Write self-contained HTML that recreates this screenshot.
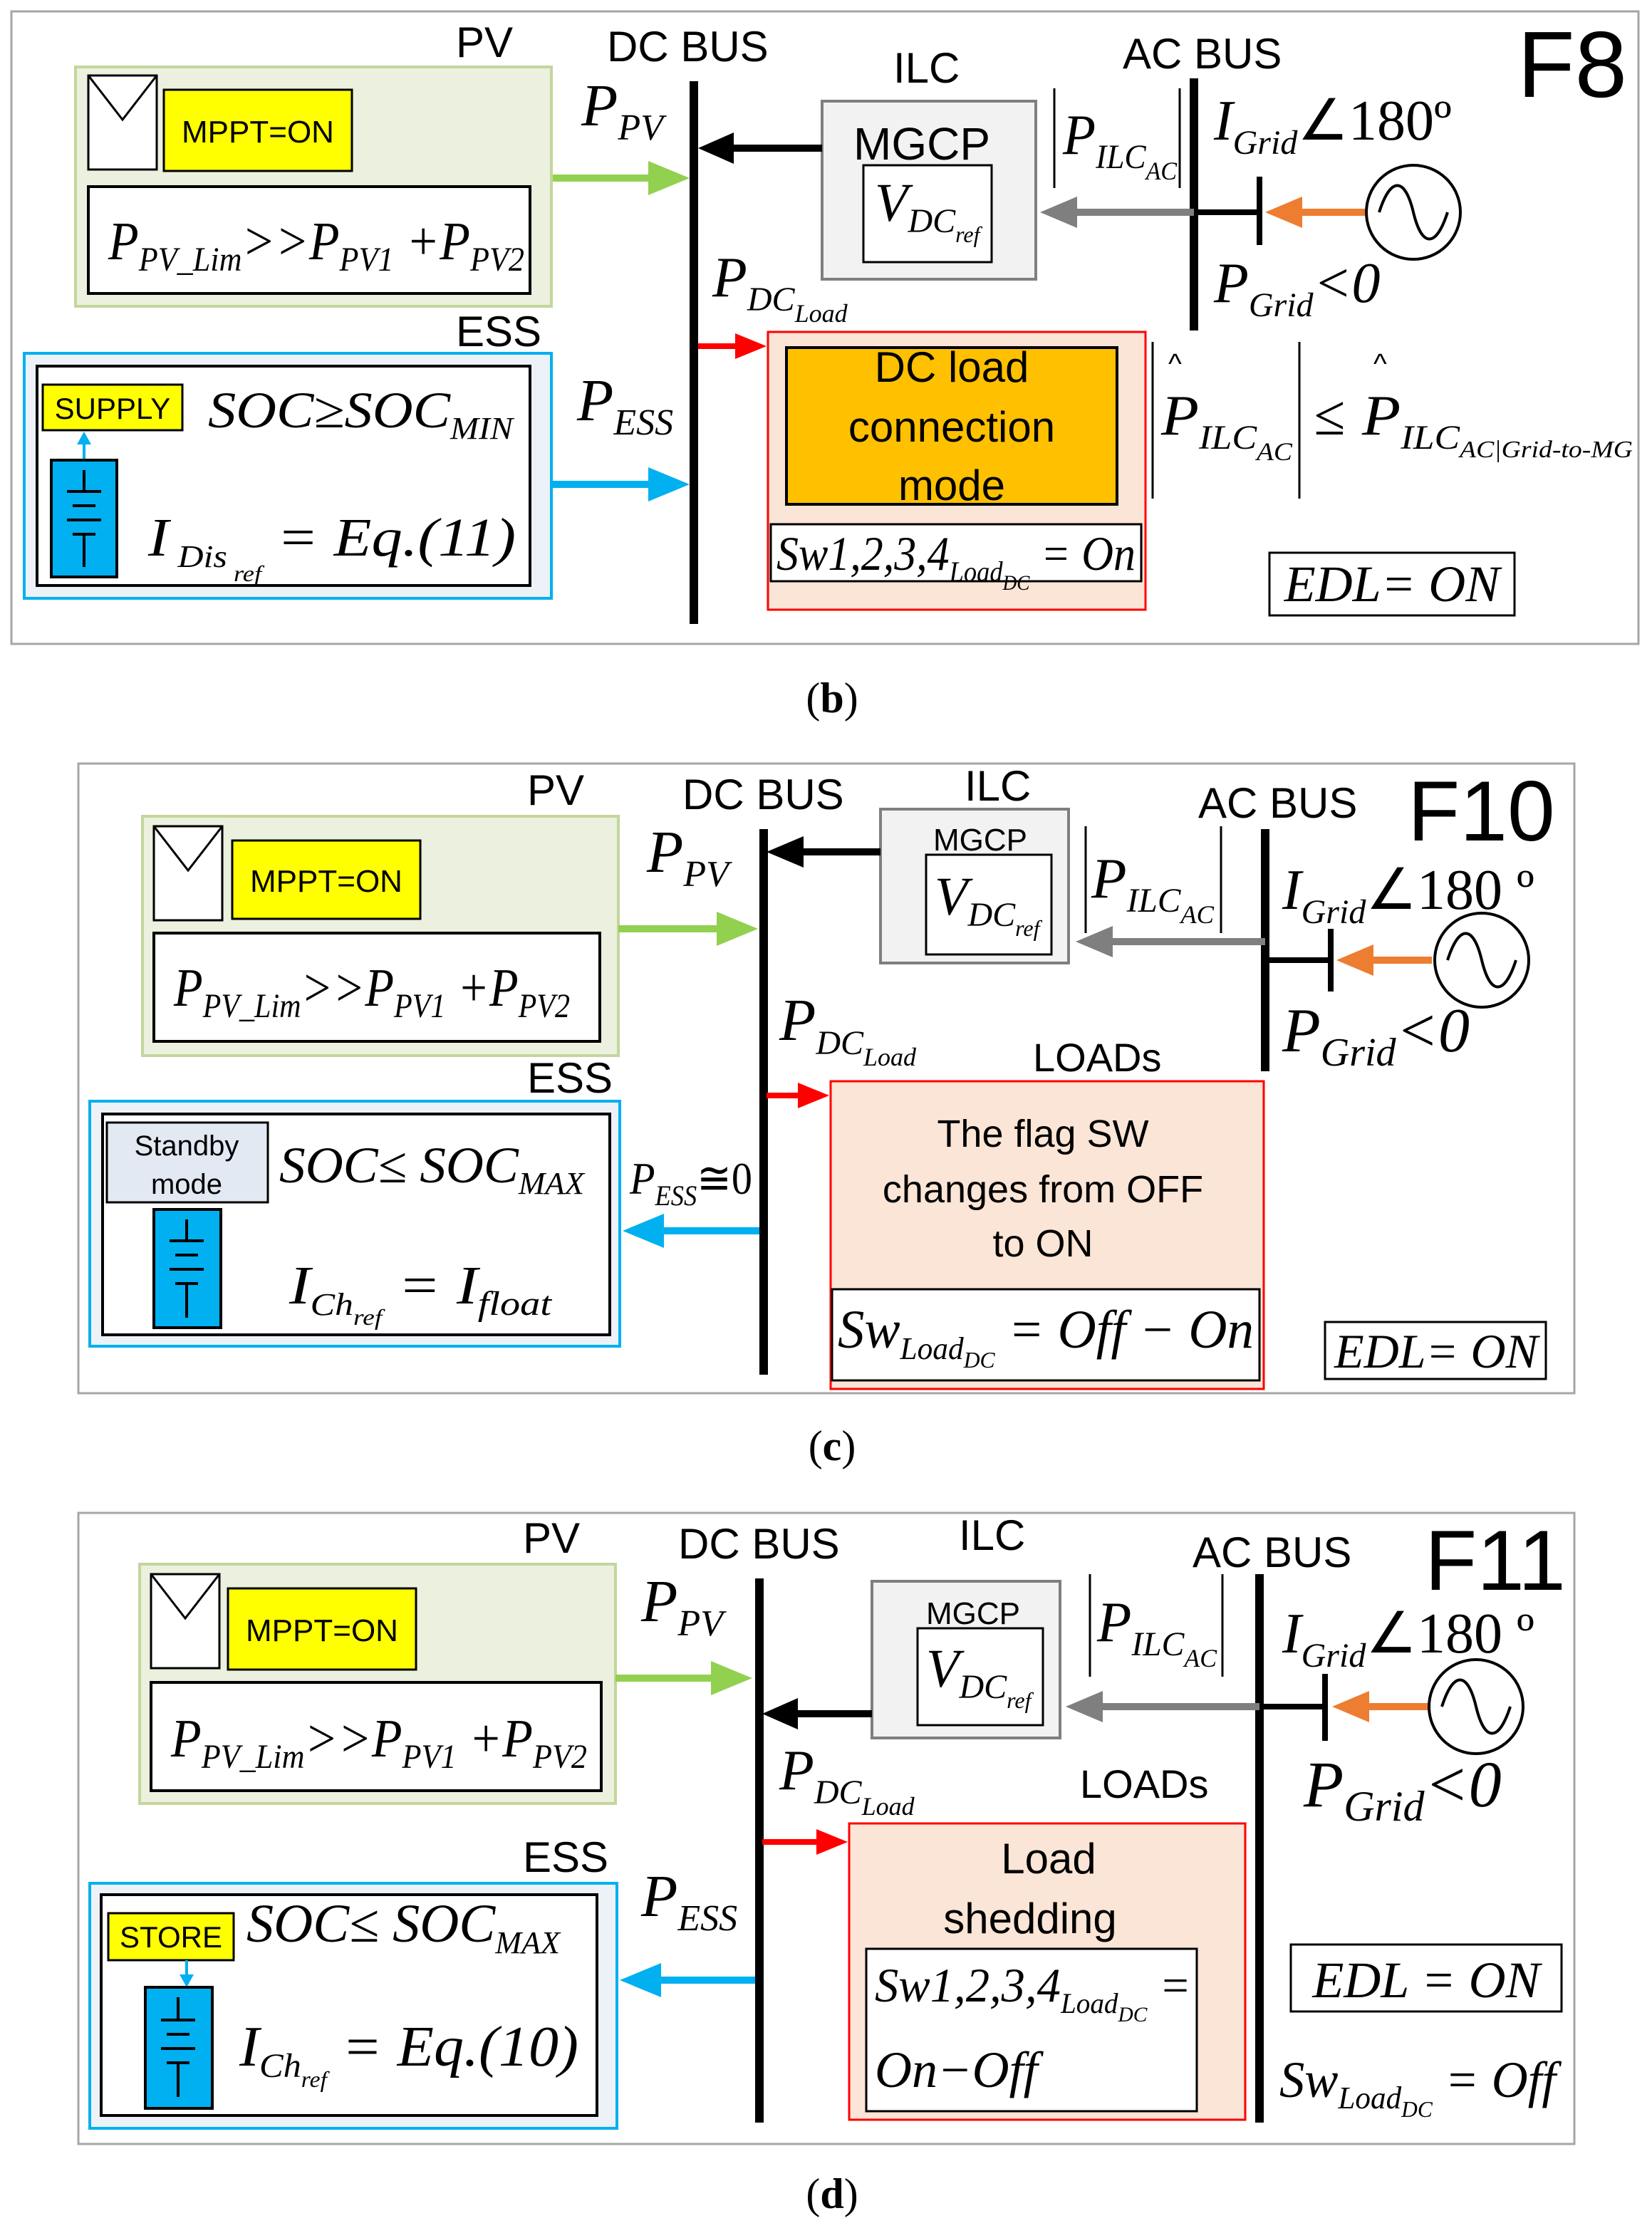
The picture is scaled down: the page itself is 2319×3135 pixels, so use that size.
<!DOCTYPE html>
<html><head><meta charset="utf-8"><style>
html,body{margin:0;padding:0;background:#fff;}
svg{display:block;}
.s{font-family:"Liberation Sans",sans-serif;}
.m{font-family:"Liberation Serif",serif;font-style:italic;}
</style></head><body>
<svg width="2319" height="3135" viewBox="0 0 1159.5 1567.5" xmlns="http://www.w3.org/2000/svg">
<rect width="1159.5" height="1567.5" fill="#fff"/>

<!-- ============ PANEL B ============ -->
<rect x="8" y="8" width="1142" height="444" fill="#fff" stroke="#a6a6a6" stroke-width="1.5"/>
<text class="s" x="320" y="40" font-size="30">PV</text>
<text class="s" x="426" y="43" font-size="30">DC BUS</text>
<text class="s" x="627" y="58" font-size="30">ILC</text>
<text class="s" x="788" y="48" font-size="30">AC BUS</text>
<text class="s" x="1065" y="68" font-size="66">F8</text>
<rect x="53" y="47" width="334" height="168" fill="#ebf1de" stroke="#c3d69b" stroke-width="2"/>
<rect x="62" y="53" width="48" height="66" fill="#fff" stroke="#000" stroke-width="1.5"/>
<polyline points="62,53 86,84 110,53" fill="none" stroke="#000" stroke-width="1.5"/>
<rect x="115" y="63" width="132" height="57" fill="#ffff00" stroke="#000" stroke-width="1.5"/>
<text class="s" x="181" y="100" font-size="22" text-anchor="middle">MPPT=ON</text>
<rect x="62" y="131" width="310" height="75" fill="#fff" stroke="#000" stroke-width="2"/>
<text class="m" x="76" y="182" font-size="38" textLength="292" lengthAdjust="spacingAndGlyphs">P<tspan font-size="24" dy="8">PV_Lim</tspan><tspan dy="-8">&gt;&gt;P</tspan><tspan font-size="24" dy="8">PV1</tspan><tspan dy="-8"> +P</tspan><tspan font-size="24" dy="8">PV2</tspan></text>
<text class="m" x="408" y="88" font-size="42">P<tspan font-size="26" dy="10">PV</tspan></text>
<line x1="487" y1="57" x2="487" y2="438" stroke="#000" stroke-width="6"/>
<line x1="388" y1="125" x2="462" y2="125" stroke="#92d050" stroke-width="5"/>
<polygon points="484,125 455,113 455,137" fill="#92d050"/>
<text class="s" x="320" y="243" font-size="30">ESS</text>
<rect x="17" y="248" width="370" height="172" fill="#edf2f8" stroke="#00b0f0" stroke-width="2"/>
<rect x="26" y="257" width="346" height="154" fill="#fff" stroke="#000" stroke-width="2"/>
<rect x="30" y="270" width="98" height="32" fill="#ffff00" stroke="#000" stroke-width="1.5"/>
<text class="s" x="79" y="294" font-size="21" text-anchor="middle">SUPPLY</text>
<line x1="59" y1="323" x2="59" y2="310" stroke="#00b0f0" stroke-width="2"/>
<polygon points="59,303 54,312 64,312" fill="#00b0f0"/>
<rect x="36" y="323" width="46" height="82" fill="#00b0f0" stroke="#000" stroke-width="2"/>
<g stroke="#000" stroke-width="2"><line x1="59" y1="330" x2="59" y2="345"/><line x1="59" y1="375" x2="59" y2="398"/><line x1="47" y1="345" x2="71" y2="345"/><line x1="51" y1="355" x2="67" y2="355"/><line x1="47" y1="365" x2="71" y2="365"/><line x1="51" y1="375" x2="67" y2="375"/></g>
<text class="m" x="146" y="300" font-size="36" textLength="214" lengthAdjust="spacingAndGlyphs">SOC≥SOC<tspan font-size="22" dy="8">MIN</tspan></text>
<text class="m" x="104" y="390" font-size="38" textLength="258" lengthAdjust="spacingAndGlyphs">I<tspan font-size="22" dy="8"> Dis</tspan><tspan font-size="16" dy="10"> ref</tspan><tspan dy="-18">   = Eq.(11)</tspan></text>
<text class="m" x="405" y="295" font-size="42">P<tspan font-size="26" dy="10">ESS</tspan></text>
<line x1="388" y1="340" x2="462" y2="340" stroke="#00b0f0" stroke-width="5"/>
<polygon points="484,340 455,328 455,352" fill="#00b0f0"/>
<rect x="577" y="71" width="150" height="125" fill="#f2f2f2" stroke="#7f7f7f" stroke-width="2"/>
<text class="s" x="647" y="112" font-size="32" text-anchor="middle">MGCP</text>
<rect x="606" y="116" width="90" height="68" fill="#fff" stroke="#000" stroke-width="1.5"/>
<text class="m" x="614" y="155" font-size="38">V<tspan font-size="24" dy="8">DC</tspan><tspan font-size="16" dy="7">ref</tspan></text>
<line x1="577" y1="104" x2="510" y2="104" stroke="#000" stroke-width="5"/>
<polygon points="490,104 515,93 515,115" fill="#000"/>
<line x1="740" y1="62" x2="740" y2="132" stroke="#000" stroke-width="1.5"/>
<line x1="828" y1="62" x2="828" y2="132" stroke="#000" stroke-width="1.5"/>
<text class="m" x="746" y="108" font-size="40" textLength="80" lengthAdjust="spacingAndGlyphs">P<tspan font-size="24" dy="10">ILC</tspan><tspan font-size="18" dy="8">AC</tspan></text>
<line x1="838" y1="55" x2="838" y2="232" stroke="#000" stroke-width="6"/>
<line x1="838" y1="149" x2="752" y2="149" stroke="#7f7f7f" stroke-width="5"/>
<polygon points="730,149 756,138 756,160" fill="#7f7f7f"/>
<line x1="838" y1="149" x2="886" y2="149" stroke="#000" stroke-width="4"/>
<line x1="884" y1="124" x2="884" y2="172" stroke="#000" stroke-width="4"/>
<line x1="958" y1="149" x2="910" y2="149" stroke="#ed7d31" stroke-width="5"/>
<polygon points="888,149 914,138 914,160" fill="#ed7d31"/>
<circle cx="992" cy="149" r="33" fill="#fff" stroke="#000" stroke-width="2"/>
<path d="M968,149 C976,124 986,124 992,149 C998,174 1008,174 1016,149" fill="none" stroke="#000" stroke-width="2"/>
<text class="m" x="852" y="98" font-size="40">I<tspan font-size="24" dy="10">Grid</tspan><tspan dy="-10" font-style="normal">∠180º</tspan></text>
<text class="m" x="852" y="212" font-size="40">P<tspan font-size="24" dy="10">Grid</tspan><tspan dy="-10">&lt;0</tspan></text>
<text class="m" x="500" y="208" font-size="40">P<tspan font-size="24" dy="10">DC</tspan><tspan font-size="18" dy="8">Load</tspan></text>
<line x1="490" y1="243" x2="518" y2="243" stroke="#ff0000" stroke-width="4"/>
<polygon points="538,243 516,234 516,252" fill="#ff0000"/>
<rect x="539" y="233" width="265" height="195" fill="#fbe5d6" stroke="#ff0000" stroke-width="1.5"/>
<rect x="552" y="244" width="232" height="110" fill="#ffc000" stroke="#000" stroke-width="2"/>
<text class="s" x="668" y="268" font-size="30" text-anchor="middle">DC load</text>
<text class="s" x="668" y="310" font-size="30" text-anchor="middle">connection</text>
<text class="s" x="668" y="351" font-size="30" text-anchor="middle">mode</text>
<rect x="541" y="368" width="260" height="40" fill="#fff" stroke="#000" stroke-width="1.5"/>
<text class="m" x="545" y="400" font-size="34" textLength="252" lengthAdjust="spacingAndGlyphs">Sw1,2,3,4<tspan font-size="20" dy="8">Load</tspan><tspan font-size="15" dy="6">DC</tspan><tspan dy="-14"> = On</tspan></text>
<line x1="809" y1="240" x2="809" y2="350" stroke="#000" stroke-width="1.5"/>
<line x1="912" y1="240" x2="912" y2="350" stroke="#000" stroke-width="1.5"/>
<text class="s" x="820" y="262" font-size="20">^</text>
<text class="s" x="964" y="262" font-size="20">^</text>
<text class="m" x="815" y="305" font-size="40" textLength="92" lengthAdjust="spacingAndGlyphs">P<tspan font-size="24" dy="10">ILC</tspan><tspan font-size="18" dy="8">AC</tspan></text>
<text class="m" x="922" y="305" font-size="40" font-style="normal">≤</text><text class="m" x="956" y="305" font-size="40" textLength="190" lengthAdjust="spacingAndGlyphs">P<tspan font-size="24" dy="10">ILC</tspan><tspan font-size="17" dy="6">AC|Grid-to-MG</tspan></text>
<rect x="891" y="388" width="172" height="44" fill="#fff" stroke="#000" stroke-width="1.5"/>
<text class="m" x="977" y="422" font-size="36" text-anchor="middle">EDL= ON</text>
<text x="584" y="500" font-family="Liberation Serif,serif" font-size="30" text-anchor="middle">(<tspan font-weight="bold">b</tspan>)</text>

<!-- ============ PANEL C ============ -->
<rect x="55" y="536" width="1050" height="442" fill="#fff" stroke="#a6a6a6" stroke-width="1.5"/>
<text class="s" x="370" y="565" font-size="30">PV</text>
<text class="s" x="479" y="568" font-size="30">DC BUS</text>
<text class="s" x="677" y="562" font-size="30">ILC</text>
<text class="s" x="841" y="574" font-size="30">AC BUS</text>
<text class="s" x="988" y="590" font-size="60">F10</text>
<rect x="100" y="573" width="334" height="168" fill="#ebf1de" stroke="#c3d69b" stroke-width="2"/>
<rect x="108" y="580" width="48" height="66" fill="#fff" stroke="#000" stroke-width="1.5"/>
<polyline points="108,580 132,611 156,580" fill="none" stroke="#000" stroke-width="1.5"/>
<rect x="163" y="590" width="132" height="55" fill="#ffff00" stroke="#000" stroke-width="1.5"/>
<text class="s" x="229" y="626" font-size="22" text-anchor="middle">MPPT=ON</text>
<rect x="108" y="655" width="313" height="76" fill="#fff" stroke="#000" stroke-width="2"/>
<text class="m" x="122" y="706" font-size="38" textLength="278" lengthAdjust="spacingAndGlyphs">P<tspan font-size="24" dy="8">PV_Lim</tspan><tspan dy="-8">&gt;&gt;P</tspan><tspan font-size="24" dy="8">PV1</tspan><tspan dy="-8"> +P</tspan><tspan font-size="24" dy="8">PV2</tspan></text>
<text class="m" x="454" y="612" font-size="42">P<tspan font-size="26" dy="10">PV</tspan></text>
<line x1="536" y1="582" x2="536" y2="965" stroke="#000" stroke-width="6"/>
<line x1="434" y1="652" x2="510" y2="652" stroke="#92d050" stroke-width="5"/>
<polygon points="532,652 503,640 503,664" fill="#92d050"/>
<text class="s" x="370" y="767" font-size="30">ESS</text>
<rect x="63" y="773" width="372" height="172" fill="#edf2f8" stroke="#00b0f0" stroke-width="2"/>
<rect x="72" y="782" width="356" height="155" fill="#fff" stroke="#000" stroke-width="2"/>
<rect x="75" y="788" width="113" height="56" fill="#e3e9f2" stroke="#000" stroke-width="1.5"/>
<text class="s" x="131" y="811" font-size="20" text-anchor="middle">Standby</text>
<text class="s" x="131" y="838" font-size="20" text-anchor="middle">mode</text>
<rect x="108" y="849" width="47" height="83" fill="#00b0f0" stroke="#000" stroke-width="2"/>
<g stroke="#000" stroke-width="2"><line x1="131" y1="856" x2="131" y2="871"/><line x1="131" y1="901" x2="131" y2="925"/><line x1="119" y1="871" x2="143" y2="871"/><line x1="123" y1="881" x2="139" y2="881"/><line x1="119" y1="891" x2="143" y2="891"/><line x1="123" y1="901" x2="139" y2="901"/></g>
<text class="m" x="196" y="830" font-size="36" textLength="214" lengthAdjust="spacingAndGlyphs">SOC≤ SOC<tspan font-size="22" dy="8">MAX</tspan></text>
<text class="m" x="203" y="915" font-size="38" textLength="184" lengthAdjust="spacingAndGlyphs">I<tspan font-size="22" dy="8">Ch</tspan><tspan font-size="16" dy="7">ref</tspan><tspan dy="-15"> = I</tspan><tspan font-size="24" dy="8">float</tspan></text>
<text class="m" x="442" y="838" font-size="32" textLength="86" lengthAdjust="spacingAndGlyphs">P<tspan font-size="20" dy="8">ESS</tspan><tspan dy="-8" font-style="normal">≅0</tspan></text>
<line x1="533" y1="864" x2="460" y2="864" stroke="#00b0f0" stroke-width="5"/>
<polygon points="437,864 466,852 466,876" fill="#00b0f0"/>
<rect x="618" y="568" width="132" height="108" fill="#f2f2f2" stroke="#7f7f7f" stroke-width="2"/>
<text class="s" x="688" y="597" font-size="22" text-anchor="middle">MGCP</text>
<rect x="650" y="600" width="88" height="70" fill="#fff" stroke="#000" stroke-width="1.5"/>
<text class="m" x="656" y="642" font-size="38">V<tspan font-size="24" dy="8">DC</tspan><tspan font-size="16" dy="7">ref</tspan></text>
<line x1="618" y1="598" x2="560" y2="598" stroke="#000" stroke-width="5"/>
<polygon points="538,598 564,587 564,609" fill="#000"/>
<line x1="762" y1="580" x2="762" y2="655" stroke="#000" stroke-width="1.5"/>
<line x1="857" y1="580" x2="857" y2="655" stroke="#000" stroke-width="1.5"/>
<text class="m" x="766" y="630" font-size="40" textLength="86" lengthAdjust="spacingAndGlyphs">P<tspan font-size="24" dy="10">ILC</tspan><tspan font-size="18" dy="8">AC</tspan></text>
<line x1="888" y1="582" x2="888" y2="752" stroke="#000" stroke-width="6"/>
<line x1="888" y1="661" x2="778" y2="661" stroke="#7f7f7f" stroke-width="5"/>
<polygon points="755,661 781,650 781,672" fill="#7f7f7f"/>
<line x1="888" y1="674" x2="936" y2="674" stroke="#000" stroke-width="4"/>
<line x1="934" y1="652" x2="934" y2="696" stroke="#000" stroke-width="4"/>
<line x1="1005" y1="674" x2="960" y2="674" stroke="#ed7d31" stroke-width="5"/>
<polygon points="938,674 964,663 964,685" fill="#ed7d31"/>
<circle cx="1040" cy="674" r="33" fill="#fff" stroke="#000" stroke-width="2"/>
<path d="M1016,674 C1024,649 1034,649 1040,674 C1046,699 1056,699 1064,674" fill="none" stroke="#000" stroke-width="2"/>
<text class="m" x="900" y="638" font-size="40">I<tspan font-size="24" dy="10">Grid</tspan><tspan dy="-10" font-style="normal">∠180 º</tspan></text>
<text class="m" x="900" y="738" font-size="44">P<tspan font-size="28" dy="10">Grid</tspan><tspan dy="-10">&lt;0</tspan></text>
<text class="m" x="547" y="730" font-size="42">P<tspan font-size="24" dy="10">DC</tspan><tspan font-size="18" dy="8">Load</tspan></text>
<text class="s" x="725" y="752" font-size="28">LOADs</text>
<line x1="538" y1="769" x2="562" y2="769" stroke="#ff0000" stroke-width="4"/>
<polygon points="582,769 560,760 560,778" fill="#ff0000"/>
<rect x="583" y="759" width="304" height="216" fill="#fbe5d6" stroke="#ff0000" stroke-width="1.5"/>
<text class="s" x="732" y="805" font-size="27" text-anchor="middle">The flag SW</text>
<text class="s" x="732" y="844" font-size="27" text-anchor="middle">changes from OFF</text>
<text class="s" x="732" y="882" font-size="27" text-anchor="middle">to ON</text>
<rect x="584" y="905" width="300" height="64" fill="#fff" stroke="#000" stroke-width="1.5"/>
<text class="m" x="588" y="946" font-size="38" textLength="292" lengthAdjust="spacingAndGlyphs">Sw<tspan font-size="22" dy="8">Load</tspan><tspan font-size="16" dy="6">DC</tspan><tspan dy="-14"> = Off − On</tspan></text>
<rect x="930" y="928" width="155" height="40" fill="#fff" stroke="#000" stroke-width="1.5"/>
<text class="m" x="1008" y="960" font-size="34" text-anchor="middle">EDL= ON</text>
<text x="584" y="1025" font-family="Liberation Serif,serif" font-size="30" text-anchor="middle">(<tspan font-weight="bold">c</tspan>)</text>

<!-- ============ PANEL D ============ -->
<rect x="55" y="1062" width="1050" height="443" fill="#fff" stroke="#a6a6a6" stroke-width="1.5"/>
<text class="s" x="367" y="1090" font-size="30">PV</text>
<text class="s" x="476" y="1094" font-size="30">DC BUS</text>
<text class="s" x="673" y="1088" font-size="30">ILC</text>
<text class="s" x="837" y="1100" font-size="30">AC BUS</text>
<text class="s" x="1000" y="1116" font-size="60">F11</text>
<rect x="98" y="1098" width="334" height="168" fill="#ebf1de" stroke="#c3d69b" stroke-width="2"/>
<rect x="106" y="1105" width="48" height="66" fill="#fff" stroke="#000" stroke-width="1.5"/>
<polyline points="106,1105 130,1136 154,1105" fill="none" stroke="#000" stroke-width="1.5"/>
<rect x="160" y="1115" width="132" height="57" fill="#ffff00" stroke="#000" stroke-width="1.5"/>
<text class="s" x="226" y="1152" font-size="22" text-anchor="middle">MPPT=ON</text>
<rect x="106" y="1181" width="316" height="76" fill="#fff" stroke="#000" stroke-width="2"/>
<text class="m" x="120" y="1233" font-size="38" textLength="292" lengthAdjust="spacingAndGlyphs">P<tspan font-size="24" dy="8">PV_Lim</tspan><tspan dy="-8">&gt;&gt;P</tspan><tspan font-size="24" dy="8">PV1</tspan><tspan dy="-8"> +P</tspan><tspan font-size="24" dy="8">PV2</tspan></text>
<text class="m" x="450" y="1138" font-size="42">P<tspan font-size="26" dy="10">PV</tspan></text>
<line x1="533" y1="1108" x2="533" y2="1490" stroke="#000" stroke-width="6"/>
<line x1="432" y1="1178" x2="505" y2="1178" stroke="#92d050" stroke-width="5"/>
<polygon points="528,1178 499,1166 499,1190" fill="#92d050"/>
<text class="s" x="367" y="1314" font-size="30">ESS</text>
<rect x="63" y="1322" width="370" height="172" fill="#edf2f8" stroke="#00b0f0" stroke-width="2"/>
<rect x="71" y="1330" width="348" height="155" fill="#fff" stroke="#000" stroke-width="2"/>
<rect x="76" y="1343" width="88" height="33" fill="#ffff00" stroke="#000" stroke-width="1.5"/>
<text class="s" x="120" y="1367" font-size="21" text-anchor="middle">STORE</text>
<line x1="131" y1="1376" x2="131" y2="1388" stroke="#00b0f0" stroke-width="2"/>
<polygon points="131,1395 126,1386 136,1386" fill="#00b0f0"/>
<rect x="102" y="1395" width="47" height="85" fill="#00b0f0" stroke="#000" stroke-width="2"/>
<g stroke="#000" stroke-width="2"><line x1="125" y1="1402" x2="125" y2="1418"/><line x1="125" y1="1448" x2="125" y2="1472"/><line x1="113" y1="1418" x2="137" y2="1418"/><line x1="117" y1="1428" x2="133" y2="1428"/><line x1="113" y1="1438" x2="137" y2="1438"/><line x1="117" y1="1448" x2="133" y2="1448"/></g>
<text class="m" x="173" y="1363" font-size="38" textLength="220" lengthAdjust="spacingAndGlyphs">SOC≤ SOC<tspan font-size="22" dy="8">MAX</tspan></text>
<text class="m" x="168" y="1450" font-size="40" textLength="238" lengthAdjust="spacingAndGlyphs">I<tspan font-size="24" dy="8">Ch</tspan><tspan font-size="16" dy="7">ref</tspan><tspan dy="-15"> = Eq.(10)</tspan></text>
<text class="m" x="450" y="1345" font-size="42">P<tspan font-size="26" dy="10">ESS</tspan></text>
<line x1="530" y1="1390" x2="458" y2="1390" stroke="#00b0f0" stroke-width="5"/>
<polygon points="435,1390 464,1378 464,1402" fill="#00b0f0"/>
<rect x="612" y="1110" width="132" height="110" fill="#f2f2f2" stroke="#7f7f7f" stroke-width="2"/>
<text class="s" x="683" y="1140" font-size="22" text-anchor="middle">MGCP</text>
<rect x="644" y="1143" width="88" height="68" fill="#fff" stroke="#000" stroke-width="1.5"/>
<text class="m" x="650" y="1184" font-size="38">V<tspan font-size="24" dy="8">DC</tspan><tspan font-size="16" dy="7">ref</tspan></text>
<line x1="612" y1="1203" x2="556" y2="1203" stroke="#000" stroke-width="5"/>
<polygon points="535,1203 560,1192 560,1214" fill="#000"/>
<line x1="765" y1="1105" x2="765" y2="1177" stroke="#000" stroke-width="1.5"/>
<line x1="858" y1="1105" x2="858" y2="1177" stroke="#000" stroke-width="1.5"/>
<text class="m" x="770" y="1152" font-size="40" textLength="84" lengthAdjust="spacingAndGlyphs">P<tspan font-size="24" dy="10">ILC</tspan><tspan font-size="18" dy="8">AC</tspan></text>
<line x1="884" y1="1105" x2="884" y2="1490" stroke="#000" stroke-width="6"/>
<line x1="884" y1="1198" x2="772" y2="1198" stroke="#7f7f7f" stroke-width="5"/>
<polygon points="748,1198 774,1187 774,1209" fill="#7f7f7f"/>
<line x1="884" y1="1198" x2="932" y2="1198" stroke="#000" stroke-width="4"/>
<line x1="930" y1="1175" x2="930" y2="1222" stroke="#000" stroke-width="4"/>
<line x1="1003" y1="1198" x2="958" y2="1198" stroke="#ed7d31" stroke-width="5"/>
<polygon points="935,1198 961,1187 961,1209" fill="#ed7d31"/>
<circle cx="1036" cy="1198" r="33" fill="#fff" stroke="#000" stroke-width="2"/>
<path d="M1012,1198 C1020,1173 1030,1173 1036,1198 C1042,1223 1052,1223 1060,1198" fill="none" stroke="#000" stroke-width="2"/>
<text class="m" x="900" y="1160" font-size="40">I<tspan font-size="24" dy="10">Grid</tspan><tspan dy="-10" font-style="normal">∠180 º</tspan></text>
<text class="m" x="915" y="1268" font-size="46">P<tspan font-size="30" dy="10">Grid</tspan><tspan dy="-10">&lt;0</tspan></text>
<text class="m" x="547" y="1256" font-size="40">P<tspan font-size="24" dy="10">DC</tspan><tspan font-size="18" dy="8">Load</tspan></text>
<text class="s" x="758" y="1262" font-size="28">LOADs</text>
<line x1="535" y1="1293" x2="575" y2="1293" stroke="#ff0000" stroke-width="4"/>
<polygon points="595,1293 573,1284 573,1302" fill="#ff0000"/>
<rect x="596" y="1280" width="278" height="208" fill="#fbe5d6" stroke="#ff0000" stroke-width="1.5"/>
<text class="s" x="736" y="1315" font-size="30" text-anchor="middle">Load</text>
<text class="s" x="723" y="1357" font-size="30" text-anchor="middle">shedding</text>
<rect x="608" y="1368" width="232" height="114" fill="#fff" stroke="#000" stroke-width="1.5"/>
<text class="m" x="614" y="1405" font-size="34" textLength="222" lengthAdjust="spacingAndGlyphs">Sw1,2,3,4<tspan font-size="20" dy="8">Load</tspan><tspan font-size="15" dy="6">DC</tspan><tspan dy="-14">  =</tspan></text>
<text class="m" x="614" y="1465" font-size="36">On−Off</text>
<rect x="906" y="1365" width="190" height="47" fill="#fff" stroke="#000" stroke-width="1.5"/>
<text class="m" x="1001" y="1402" font-size="36" text-anchor="middle">EDL = ON</text>
<text class="m" x="898" y="1472" font-size="36" textLength="194" lengthAdjust="spacingAndGlyphs">Sw<tspan font-size="22" dy="8">Load</tspan><tspan font-size="16" dy="6">DC</tspan><tspan dy="-14"> = Off</tspan></text>
<text x="584" y="1550" font-family="Liberation Serif,serif" font-size="30" text-anchor="middle">(<tspan font-weight="bold">d</tspan>)</text>
</svg>
</body></html>
